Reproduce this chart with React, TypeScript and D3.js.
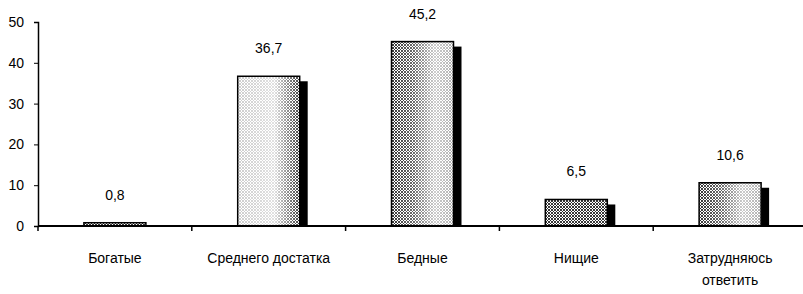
import { useEffect, useRef } from 'react';
import * as d3 from 'd3';

const categories = ['Богатые', 'Среднего достатка', 'Бедные', 'Нищие', 'Затрудняюсь ответить'];
const values = [0.8, 36.7, 45.2, 6.5, 10.6];
const valueLabels = ['0,8', '36,7', '45,2', '6,5', '10,6'];
const yTicks = [0, 10, 20, 30, 40, 50];

// how the light sheen lies over the hatching of each bar
const shades = ['flat', 'leftLight', 'rightLight', 'flat', 'rightLight'];

const App = () => {
  const svgRef = useRef<SVGSVGElement>(null);

  useEffect(() => {
    const svg = d3.select(svgRef.current).attr('width', 803).attr('height', 294);
    svg.selectAll('*').remove();

    const font = '"Liberation Sans Narrow", "Liberation Sans", Arial, sans-serif';
    const fs = 14;
    const x0 = 38;
    const x1 = 807;
    const yTop = 22;
    const yBase = 226;

    const x = d3.scaleBand().domain(categories).range([x0, x1]).padding(0);
    const y = d3.scaleLinear().domain([0, 50]).range([yBase, yTop]);

    const defs = svg.append('defs');
    const hatch = defs
      .append('pattern')
      .attr('id', 'hatch')
      .attr('patternUnits', 'userSpaceOnUse')
      .attr('width', 3)
      .attr('height', 3);
    hatch.append('rect').attr('width', 3).attr('height', 3).attr('fill', '#fff');
    hatch.append('path').attr('d', 'M0,0L3,3M3,0L0,3').attr('stroke', '#222').attr('stroke-width', 0.9);

    const leftLight = defs.append('linearGradient').attr('id', 'leftLight').attr('x1', 0).attr('x2', 1);
    leftLight.append('stop').attr('offset', '0%').attr('stop-color', '#fff').attr('stop-opacity', 0.75);
    leftLight.append('stop').attr('offset', '60%').attr('stop-color', '#fff').attr('stop-opacity', 0.85);
    leftLight.append('stop').attr('offset', '100%').attr('stop-color', '#fff').attr('stop-opacity', 0.05);

    const rightLight = defs.append('linearGradient').attr('id', 'rightLight').attr('x1', 0).attr('x2', 1);
    rightLight.append('stop').attr('offset', '0%').attr('stop-color', '#fff').attr('stop-opacity', 0.0);
    rightLight.append('stop').attr('offset', '35%').attr('stop-color', '#fff').attr('stop-opacity', 0.25);
    rightLight.append('stop').attr('offset', '70%').attr('stop-color', '#fff').attr('stop-opacity', 0.75);
    rightLight.append('stop').attr('offset', '100%').attr('stop-color', '#fff').attr('stop-opacity', 0.6);

    const barW = 62;
    const cx = (d: string) => (x(d) as number) + x.bandwidth() / 2;
    const rows = categories.map((c, i) => ({ c, v: values[i], label: valueLabels[i], shade: shades[i] }));

    // shadow
    svg
      .selectAll('.shadow')
      .data(rows)
      .enter()
      .append('rect')
      .attr('x', (d) => cx(d.c) + barW / 2 - 1)
      .attr('y', (d) => Math.min(y(d.v) + 5, yBase - 1))
      .attr('width', 9)
      .attr('height', (d) => Math.max(yBase - y(d.v) - 5, 1))
      .attr('fill', '#000');

    const bars = svg.selectAll('.bar').data(rows).enter().append('g');
    bars
      .append('rect')
      .attr('x', (d) => cx(d.c) - barW / 2)
      .attr('y', (d) => y(d.v))
      .attr('width', barW)
      .attr('height', (d) => yBase - y(d.v))
      .attr('fill', 'url(#hatch)');
    bars
      .filter((d) => d.shade !== 'flat')
      .append('rect')
      .attr('x', (d) => cx(d.c) - barW / 2)
      .attr('y', (d) => y(d.v))
      .attr('width', barW)
      .attr('height', (d) => yBase - y(d.v))
      .attr('fill', (d) => `url(#${d.shade})`);
    bars
      .append('rect')
      .attr('x', (d) => cx(d.c) - barW / 2)
      .attr('y', (d) => y(d.v))
      .attr('width', barW)
      .attr('height', (d) => yBase - y(d.v))
      .attr('fill', 'none')
      .attr('stroke', '#000')
      .attr('stroke-width', 1.5);

    svg
      .selectAll('.val')
      .data(rows)
      .enter()
      .append('text')
      .attr('x', (d) => cx(d.c))
      .attr('y', (d) => y(d.v) - 23)
      .attr('text-anchor', 'middle')
      .attr('font-family', font)
      .attr('font-size', fs)
      .text((d) => d.label);

    // y axis
    const yAxis = svg
      .append('g')
      .attr('transform', `translate(${x0},0)`)
      .call(d3.axisLeft(y).tickValues(yTicks).tickSize(4).tickPadding(10).tickFormat(d3.format('d')));
    yAxis.select('.domain').attr('stroke', '#000').attr('stroke-width', 1.5);
    yAxis.selectAll('.tick line').attr('stroke', '#000');
    yAxis.selectAll('.tick text').attr('font-family', font).attr('font-size', fs).attr('fill', '#000');

    // x axis
    const xAxis = svg.append('g').attr('transform', `translate(0,${yBase})`);
    xAxis
      .append('line')
      .attr('x1', x0)
      .attr('x2', 803)
      .attr('stroke', '#000')
      .attr('stroke-width', 2);
    xAxis
      .selectAll('.xt')
      .data(categories)
      .enter()
      .append('line')
      .attr('x1', (d) => x(d) as number)
      .attr('x2', (d) => x(d) as number)
      .attr('y1', 0)
      .attr('y2', 5)
      .attr('stroke', '#000')
      .attr('stroke-width', 1.5);

    const labels = xAxis
      .selectAll('.xl')
      .data(categories)
      .enter()
      .append('text')
      .attr('x', (d) => cx(d))
      .attr('y', 37)
      .attr('text-anchor', 'middle')
      .attr('font-family', font)
      .attr('font-size', fs);
    labels.each(function (d) {
      const words = d === 'Затрудняюсь ответить' ? d.split(' ') : [d];
      d3.select(this)
        .selectAll('tspan')
        .data(words)
        .enter()
        .append('tspan')
        .attr('x', cx(d))
        .attr('dy', (_w, i) => (i === 0 ? 0 : 22))
        .text((w) => w);
    });
  }, []);

  return <svg ref={svgRef} style={{ position: 'absolute', left: 0, top: 0 }}></svg>;
};

export default App;
